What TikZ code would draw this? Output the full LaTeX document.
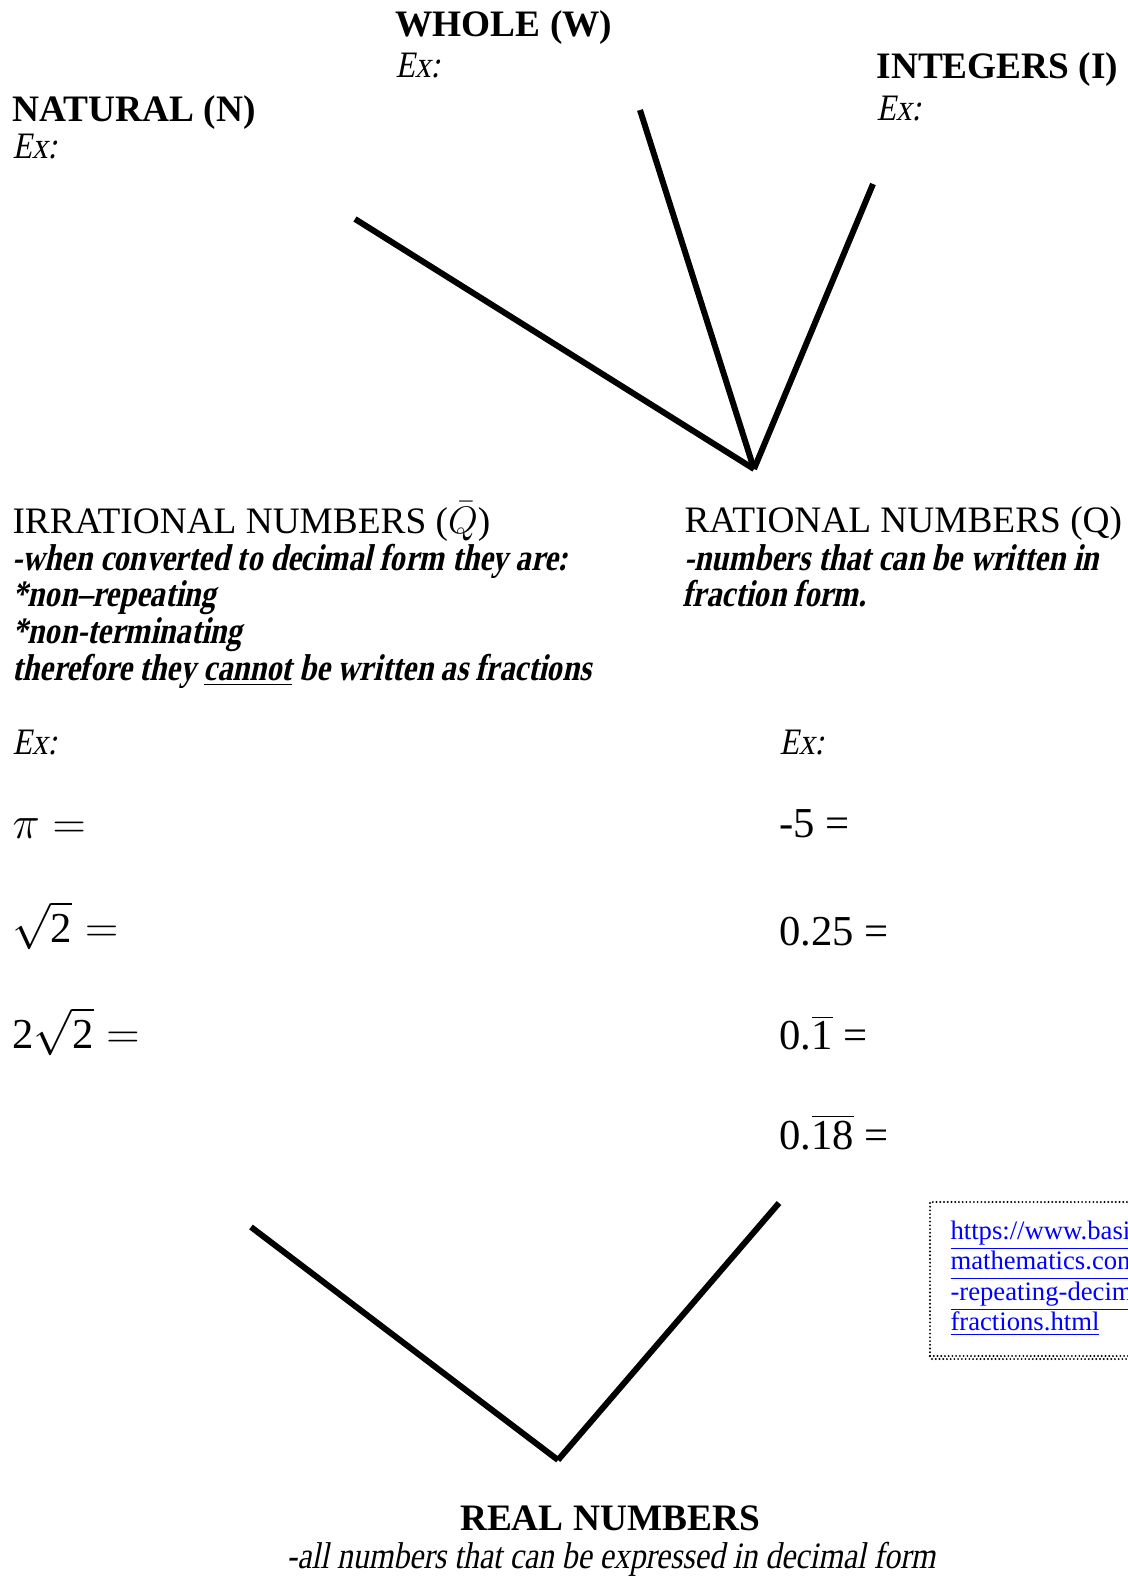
\documentclass[tikz,border=0pt]{standalone}
\usepackage{fontspec}
\setmainfont{Liberation Serif}[
  ItalicFont={Liberation Serif}, ItalicFeatures={FakeSlant=0.2, FakeStretch=0.85},
  BoldItalicFont={Liberation Serif Bold}, BoldItalicFeatures={FakeSlant=0.22, FakeStretch=0.82}]
\definecolor{linkblue}{RGB}{0,0,255}
\begin{document}
\begin{tikzpicture}[x=0.375pt,y=-0.375pt,
  txt/.style={anchor=base west, inner sep=0pt, font=\fontsize{14}{16}\selectfont},
  hd/.style={txt, font=\fontsize{14}{16}\selectfont\bfseries},
  ex/.style={txt, font=\fontsize{14}{16}\selectfont\itshape},
  bi/.style={txt, font=\fontsize{14}{16}\selectfont\bfseries\itshape},
  num/.style={txt, font=\fontsize{16}{18}\selectfont},
  link/.style={txt, font=\fontsize{10}{12}\selectfont, text=linkblue},
  branch/.style={line width=2.25pt},
  dotbox/.style={line width=0.8pt, line cap=round, dash pattern=on 0pt off 1.4pt}]
\useasboundingbox (0,0) rectangle (1128,1577);

% top headings
\node[hd] (whole) at (395,36) {WHOLE (W)};
\node[ex] (wholeEx) at (395,77) {Ex:};
\node[hd] (integers) at (876,78) {INTEGERS (I)};
\node[ex] (intEx) at (876,120) {Ex:};
\node[hd] (natural) at (12,121) {NATURAL (N)};
\node[ex] (natEx) at (12,158) {Ex:};

% upper branches
\coordinate (qApex) at (754,469);
\coordinate (nEnd) at (355,219);
\coordinate (wEnd) at (640,110);
\coordinate (iEnd) at (873,184);
\draw[branch] (nEnd) -- (qApex);
\draw[branch] (wEnd) -- (qApex);
\draw[branch] (iEnd) -- (qApex);

% irrational block
\node[txt] (irr) at (12,533) {IRRATIONAL NUMBERS ($\bar{Q}$)};
\node[bi] (irr1) at (12,570) {-when converted to decimal form they are:};
\node[bi] (irr2) at (12,606) {*non–repeating};
\node[bi] (irr3) at (12,643) {*non-terminating};
\node[bi] (irr4) at (12,680) {therefore they \underline{cannot} be written as fractions};

% rational block
\node[txt] (rat) at (684,532) {RATIONAL NUMBERS (Q)};
\node[bi] (rat1) at (684,570) {-numbers that can be written in};
\node[bi] (rat2) at (682,606) {fraction form.};

% examples
\node[ex] (irrEx) at (12,754) {Ex:};
\node[ex] (ratEx) at (779,754) {Ex:};
\node[num] (pi) at (12,838) {$\pi =$};
\node[num] (sq2) at (12,942) {$\sqrt{\mbox{2}} =$};
\node[num] (tsq2) at (12,1048) {2$\sqrt{\mbox{2}} =$};
\node[num] (m5) at (779,837) {-5 =};
\node[num] (q25) at (779,945) {0.25 =};
\node[num] (q1) at (779,1049) {0.$\overline{\mbox{1}}$ =};
\node[num] (q18) at (779,1149) {0.$\overline{\mbox{18}}$ =};

% lower branches
\coordinate (rApex) at (558,1460);
\coordinate (irrEnd) at (251,1227);
\coordinate (ratEnd) at (779,1203);
\draw[branch] (irrEnd) -- (rApex);
\draw[branch] (ratEnd) -- (rApex);

% link box (cut by right edge)
\begin{scope}
\clip (0,0) rectangle (1128,1577);
\draw[dotbox] (930,1356) -- (930,1202) -- (1140,1202);
\draw[dotbox] (930,1356) -- (1140,1356);
\draw[dotbox] (932,1359) -- (1140,1359);
\node[link] (l1) at (950,1239) {\underline{https://www.basic-}};
\node[link] (l2) at (950,1269) {\underline{mathematics.com/converting}};
\node[link] (l3) at (950,1300) {\underline{-repeating-decimals-to-}};
\node[link] (l4) at (950,1330) {\underline{fractions.html}};
\end{scope}

% bottom
\node[anchor=base, inner sep=0pt, font=\fontsize{14}{16}\selectfont\bfseries] (real) at (610,1530) {REAL NUMBERS};
\node[anchor=base, inner sep=0pt, font=\fontsize{14}{16}\selectfont\itshape] (realD) at (611,1568) {-all numbers that can be expressed in decimal form};
\end{tikzpicture}
\end{document}
